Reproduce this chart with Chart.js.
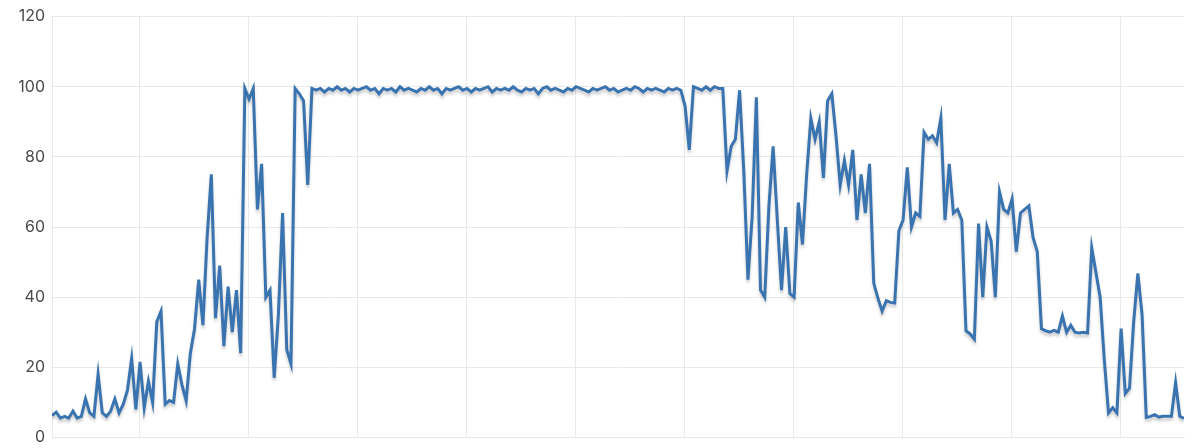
<!DOCTYPE html>
<html>
<head>
<meta charset="utf-8">
<script src="https://cdn.jsdelivr.net/npm/chart.js@4/dist/chart.umd.min.js"></script>
<style>
  html, body { margin: 0; padding: 0; background: #fff; overflow: hidden; }
  #wrap { width: 1200px; height: 454px; position: relative; }
</style>
</head>
<body>
<div id="wrap"><canvas id="grafico"></canvas></div>
<script>
// valores (por trechos)
const rampUp = [6.2, 7.2, 5.5, 6, 5.5, 7.5, 5.5, 6, 11, 7, 6, 18, 7, 6, 7.5, 11, 7, 9.5, 13.5, 22.5,
  8, 21.5, 8.5, 16, 10, 33, 36, 9.5, 10.5, 10, 21, 15, 10.5, 24, 31, 45, 32, 57, 75, 34,
  49, 26, 43, 30, 42, 24, 99.5, 96.5, 99.5, 65, 78, 40, 42, 17, 35, 64, 25, 21, 99.5, 98,
  96, 72];

const plateau = [99.5, 99, 99.5, 98.5, 99.5, 99, 100, 99, 99.5, 98.5, 99.5, 99,
  99.5, 100, 99, 99.5, 98, 99.5, 99, 99.5, 98.5, 100, 99, 99.5,
  99, 98.5, 99.5, 99, 100, 99, 99.5, 98, 99.5, 99, 99.5, 100,
  99, 99.5, 98.5, 99.5, 99, 99.5, 100, 98.5, 99.5, 99, 99.5, 99,
  100, 99, 98.5, 99.5, 99, 99.5, 98, 99.5, 100, 99, 99.5, 99,
  98.5, 99.5, 99, 100, 99.5, 99, 98.5, 99.5, 99, 99.5, 100, 99,
  99.5, 98.5, 99, 99.5, 99, 100, 99.5, 98.5, 99.5, 99, 99.5, 99,
  98.5, 99.5, 99, 99.5];

const decline = [99, 94.5, 82, 100, 99.5, 99, 100, 99, 100, 99.5,
  99.5, 76, 83, 85, 99, 76, 45, 63, 97, 42,
  40, 66, 83, 62, 42, 60, 41, 40, 67, 55,
  75, 91, 85, 90, 74, 96, 98, 86, 72, 79,
  72, 82, 62, 75, 64, 78, 44, 39.7, 36, 39,
  38.5, 38.3, 59, 62, 77, 60, 64, 63, 87, 85,
  86, 84, 91, 62, 78, 64, 65, 62, 30.4, 29.5,
  28, 61, 40, 60, 56, 40, 70, 65, 64, 68,
  53, 64, 65, 66, 57, 53, 31, 30.4, 30, 30.5,
  30, 34.6, 30, 32, 30, 29.8, 30, 29.8, 54, 47,
  40, 22, 7, 8.5, 7, 31, 12.5, 14, 33, 46.8,
  35, 5.7, 6, 6.5, 5.8, 6, 6, 6, 15.6, 6,
  5.4];

const serie = rampUp.concat(plateau, decline);

// posições das linhas verticais da grade (em índice de amostra)
const xTicks = [20.8, 46.8, 72.8, 98.8, 124.8, 150.8, 176.8, 202.8, 228.8, 254.8];
const yTicks = [0, 20, 40, 60, 80, 100, 120];

const corLinha = '#3a74b0';
const corGrade = '#e8e8e8';
const corTexto = '#4a4a4a';

// sombra cinza por baixo da linha
const sombra = {
  id: 'sombra',
  beforeDatasetsDraw(chart) {
    const ctx = chart.ctx;
    ctx.save();
    ctx.shadowColor = 'rgba(0,0,0,0.2)';
    ctx.shadowBlur = 3;
    ctx.shadowOffsetY = 3;
  },
  afterDatasetsDraw(chart) {
    chart.ctx.restore();
  }
};

const ctx = document.getElementById('grafico').getContext('2d');
new Chart(ctx, {
  type: 'line',
  data: {
    datasets: [{
      data: serie.map((v, i) => ({ x: i, y: v })),
      borderColor: corLinha,
      borderWidth: 3,
      pointRadius: 0,
      fill: false,
      tension: 0
    }]
  },
  options: {
    responsive: true,
    maintainAspectRatio: false,
    animation: false,
    layout: { padding: { top: 0, right: 16, bottom: 0, left: 17 } },
    plugins: { legend: { display: false }, tooltip: { enabled: false } },
    scales: {
      x: {
        type: 'linear',
        min: 0,
        max: serie.length - 1,
        afterBuildTicks: (axis) => { axis.ticks = xTicks.map(v => ({ value: v })); },
        ticks: { display: false },
        grid: { color: corGrade, drawTicks: false },
        border: { color: corGrade }
      },
      y: {
        min: 0,
        max: 120,
        afterBuildTicks: (axis) => { axis.ticks = yTicks.map(v => ({ value: v })); },
        afterFit: (axis) => { axis.width = 35; },
        ticks: { color: corTexto, padding: 7, font: { family: 'Inter', size: 16 } },
        grid: { color: corGrade, drawTicks: false },
        border: { color: corGrade }
      }
    }
  },
  plugins: [sombra]
});
</script>
</body>
</html>
